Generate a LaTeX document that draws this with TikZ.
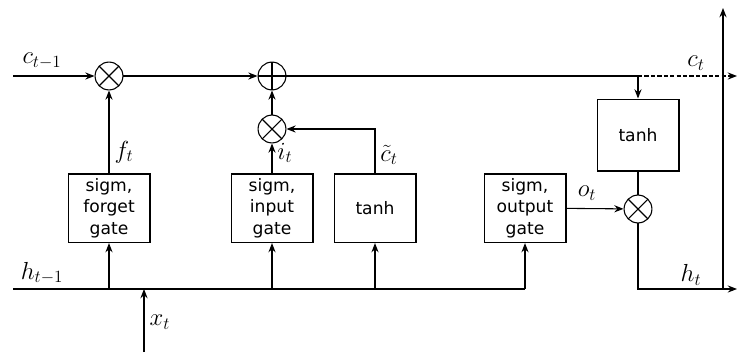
\documentclass[tikz,border=0pt]{standalone}
\usepackage{fontspec}
\setsansfont{DejaVu Sans}
\usetikzlibrary{arrows.meta,positioning}

\begin{document}
\begin{tikzpicture}[
  x=0.7pt, y=-0.7pt,
  line width=0.75pt,
  gate/.style={rectangle, draw, line width=1.1pt, font=\fontsize{12}{15}\selectfont\sffamily, align=center, minimum width=57pt, minimum height=48pt, inner sep=1pt},
  mul/.style={circle, draw, minimum size=19.5pt, inner sep=0pt, path picture={\draw (path picture bounding box.north west) -- (path picture bounding box.south east) (path picture bounding box.north east) -- (path picture bounding box.south west);}},
  add/.style={circle, draw, minimum size=19.5pt, inner sep=0pt, path picture={\draw (path picture bounding box.north) -- (path picture bounding box.south) (path picture bounding box.west) -- (path picture bounding box.east);}},
  lbl/.style={font=\LARGE, inner sep=0pt},
  flow/.style={-{Stealth[length=6.5pt,width=5pt,inset=2.2pt]}}
]
  \useasboundingbox (0,0) rectangle (737,352);

  % gates
  \node[gate] (forget) at (109,208) {sigm,\\forget\\gate};
  \node[gate] (input) at (272,208) {sigm,\\input\\gate};
  \node[gate] (cand) at (375,208) {tanh};
  \node[gate] (output) at (525,208) {sigm,\\output\\gate};
  \node[gate, minimum height=50pt] (tanhc) at (638,135) {tanh};

  % pointwise ops
  \node[mul] (fmul) at (109,76) {};
  \node[add] (cadd) at (272,76) {};
  \node[mul] (imul) at (272,129) {};
  \node[mul] (omul) at (638,209) {};

  \coordinate (cin) at (13,76);
  \coordinate (cout) at (737,76);
  \coordinate (ctap) at (638,76);
  \coordinate (hin) at (13,289);
  \coordinate (xin) at (144,352);
  \coordinate (xjoin) at (144,289);
  \coordinate (hout) at (737,289);
  \coordinate (vbase) at (723,289);
  \coordinate (vtop) at (723,8);

  % cell state
  \draw[flow] (cin) -- (fmul);
  \draw[flow] (fmul) -- (cadd);
  \draw (cadd) -- (ctap);
  \draw[flow, dash pattern=on 3pt off 1.5pt] (ctap) -- (cout);
  \draw[flow] (ctap) -- (tanhc);
  \draw (tanhc) -- (omul);
  \draw[flow] (output) -- (omul);
  \draw[flow] (omul) |- (hout);
  \draw[flow] (vbase) -- (vtop);

  % gate outputs
  \draw[flow] (forget) -- (fmul);
  \draw[flow] (input) -- (imul);
  \draw[flow] (imul) -- (cadd);
  \draw[flow] (cand.north) |- (imul);

  % input bus
  \draw (hin) -- (forget.south |- hin);
  \draw[line width=1.1pt] (forget.south |- hin) -- (cand.south |- hin);
  \draw (cand.south |- hin) -- (output.south |- hin);
  \foreach \g in {forget,input,cand,output}
    \draw[flow] (\g.south |- hin) -- (\g);
  \draw[flow] (xin) -- (xjoin);

  % labels
  \node[lbl] (lcprev) at (42,61) {$c_{t-1}$};
  \node[lbl] (lhprev) at (42,273) {$h_{t-1}$};
  \node[lbl] (lf) at (124,152) {$f_t$};
  \node[lbl] (li) at (285,153) {$i_t$};
  \node[lbl] (lcand) at (389,155) {$\tilde{c}_t$};
  \node[lbl] (lo) at (587,193) {$o_t$};
  \node[lbl] (lc) at (696,63) {$c_t$};
  \node[lbl] (lh) at (691,275) {$h_t$};
  \node[lbl] (lx) at (160,322) {$x_t$};
\end{tikzpicture}
\end{document}
